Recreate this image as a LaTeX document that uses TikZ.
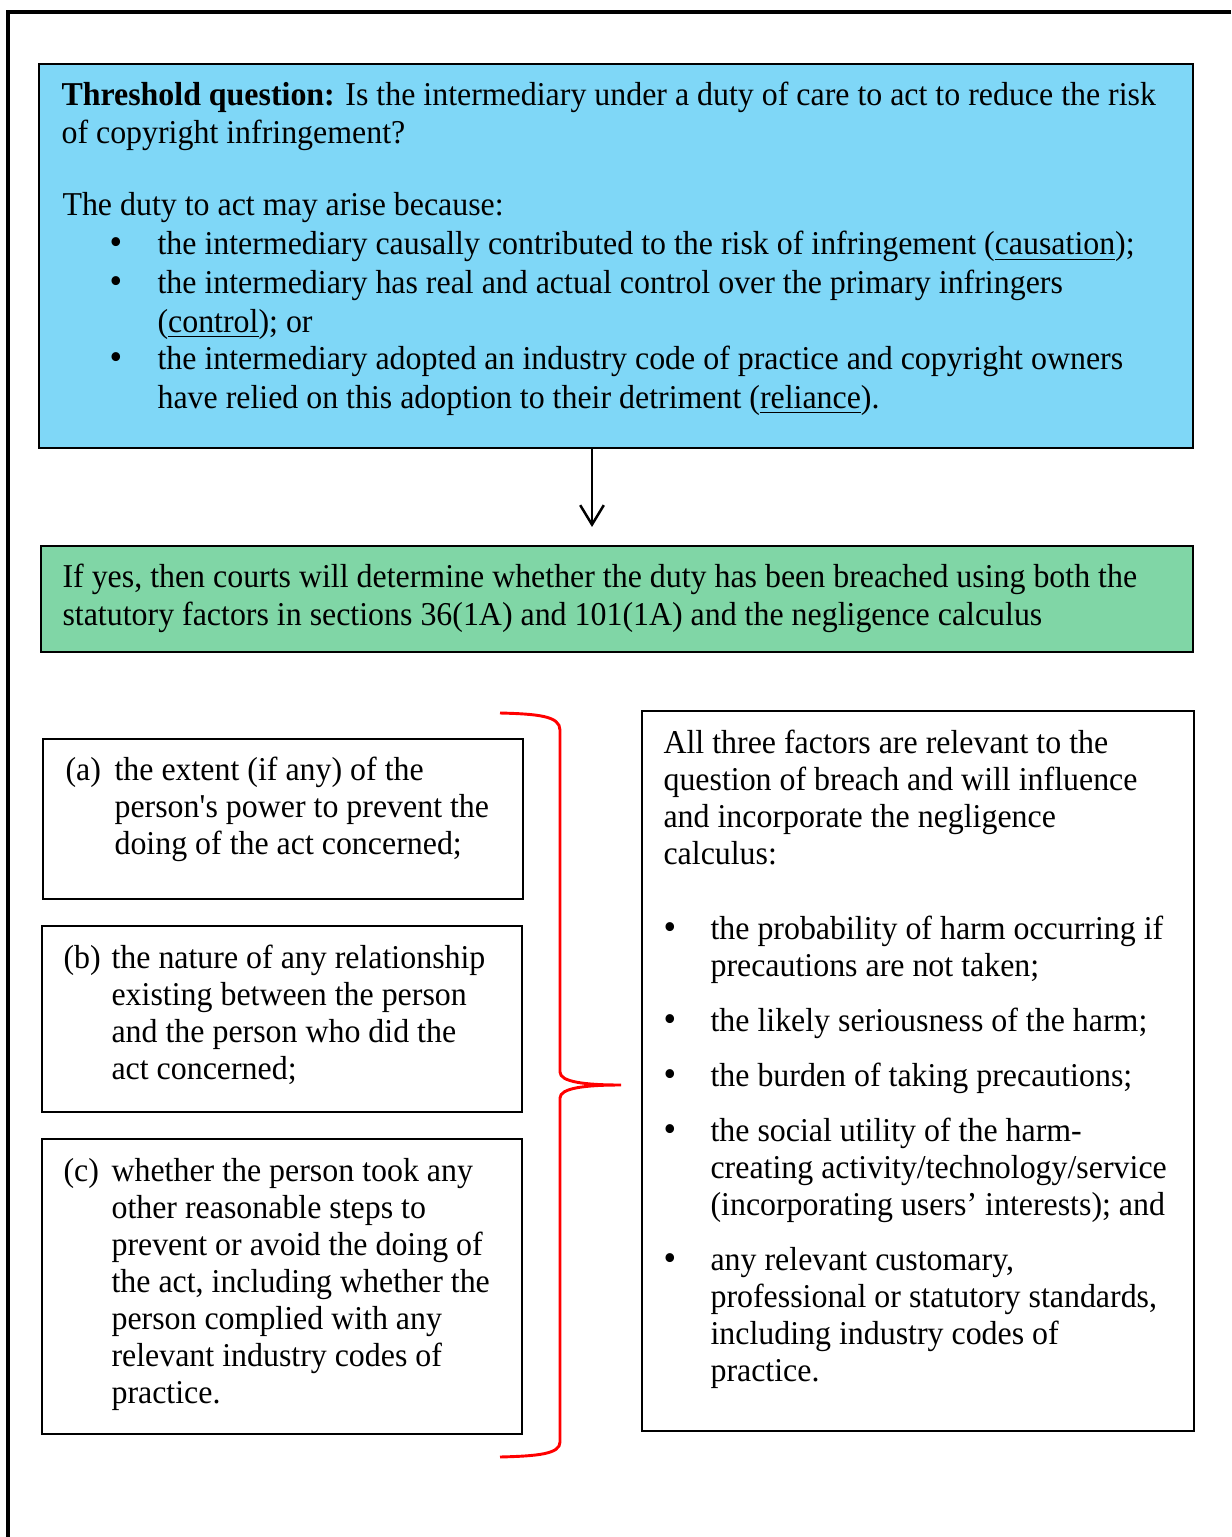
\documentclass[tikz,border=0pt]{standalone}
\usepackage{fontspec}
\setmainfont{Liberation Serif}[FakeStretch=0.957]
\usetikzlibrary{arrows.meta}
\definecolor{blueC}{RGB}{127,215,247}
\definecolor{greenC}{RGB}{128,214,166}
\definecolor{braceC}{RGB}{255,0,0}
\newcommand{\mlines}[1]{\begin{tabular}[t]{@{}l@{}}#1\end{tabular}}
\begin{document}
\begin{tikzpicture}[x=0.36pt,y=-0.36pt,
  box/.style={draw, line width=0.72pt, inner sep=0pt, outer sep=0pt, anchor=north west},
  txt/.style={anchor=base west, inner sep=0pt, font=\fontsize{12}{13.35}\selectfont},
  txtb/.style={txt, font=\fontsize{12}{13.7}\selectfont},
  bul/.style={anchor=base, inner sep=0pt, font=\fontsize{13.5}{14}\selectfont},
  frame/.style={line width=1.1pt},
  arr/.style={line width=0.9pt, -{Straight Barb[length=7pt,width=8.5pt,line width=0.9pt]}},
  brace/.style={draw=braceC, line width=1.05pt},
]
\useasboundingbox (0,0) rectangle (1231,1537);
% outer frame
\draw[frame] (1231,12) -- (8,12) -- (8,1537);
% boxes
\node[box, fill=blueC, minimum width=1154*0.36pt, minimum height=384*0.36pt] (thresh) at (39,64) {};
\node[box, fill=greenC, minimum width=1152*0.36pt, minimum height=106*0.36pt] (breach) at (41,546) {};
\node[box, minimum width=480*0.36pt, minimum height=160*0.36pt] (fa) at (43,739) {};
\node[box, minimum width=480*0.36pt, minimum height=186*0.36pt] (fb) at (42,926) {};
\node[box, minimum width=480*0.36pt, minimum height=295*0.36pt] (fc) at (42,1139) {};
\node[box, minimum width=552*0.36pt, minimum height=720*0.36pt] (factors) at (642,711) {};
% arrow
\coordinate (aend) at (592,527);
\draw[arr] (thresh.south -| aend) -- (aend);
% brace
\draw[brace] (500,713) .. controls (538,714) and (560,716) .. (560,730) -- (560,1072)
  .. controls (560,1082) and (585,1085) .. (621,1085)
  .. controls (585,1085) and (560,1088) .. (560,1098) -- (560,1442)
  .. controls (560,1454) and (538,1456) .. (500,1457);
% threshold text
\node[txt] (t1) at (61,106) {\mlines{\textbf{Threshold question:} Is the intermediary under a duty of care to act to reduce the risk\\of copyright infringement?}};
\node[txt] (t2) at (62,216) {The duty to act may arise because:};
\node[bul] (b1) at (116,255) {\textbullet};
\node[txt] (t3) at (157,255) {the intermediary causally contributed to the risk of infringement (\underline{causation});};
\node[bul] (b2) at (116,294) {\textbullet};
\node[txtb] (t4) at (157,294) {\mlines{the intermediary has real and actual control over the primary infringers\\(\underline{control}); or}};
\node[bul] (b3) at (116,370) {\textbullet};
\node[txtb] (t5) at (157,370) {\mlines{the intermediary adopted an industry code of practice and copyright owners\\have relied on this adoption to their detriment (\underline{reliance}).}};
% breach text
\node[txt] (g1) at (62,588) {\mlines{If yes, then courts will determine whether the duty has been breached using both the\\statutory factors in sections 36(1A) and 101(1A) and the negligence calculus}};
% left factors
\node[txt] (la) at (65,780) {(a)};
\node[txt] (lat) at (114,780) {\mlines{the extent (if any) of the\\person\textquotesingle s power to prevent the\\doing of the act concerned;}};
\node[txt] (lb) at (63,968) {(b)};
\node[txt] (lbt) at (111,968) {\mlines{the nature of any relationship\\existing between the person\\and the person who did the\\act concerned;}};
\node[txt] (lc) at (63,1181) {(c)};
\node[txt] (lct) at (111,1181) {\mlines{whether the person took any\\other reasonable steps to\\prevent or avoid the doing of\\the act, including whether the\\person complied with any\\relevant industry codes of\\practice.}};
% right text
\node[txt] (r0) at (663,753) {\mlines{All three factors are relevant to the\\question of breach and will influence\\and incorporate the negligence\\calculus:}};
\node[bul] (rb1) at (670,939) {\textbullet};
\node[txt] (r1) at (710,939) {\mlines{the probability of harm occurring if\\precautions are not taken;}};
\node[bul] (rb2) at (670,1031) {\textbullet};
\node[txt] (r2) at (710,1031) {the likely seriousness of the harm;};
\node[bul] (rb3) at (670,1086) {\textbullet};
\node[txt] (r3) at (710,1086) {the burden of taking precautions;};
\node[bul] (rb4) at (670,1141) {\textbullet};
\node[txt] (r4) at (710,1141) {\mlines{the social utility of the harm-\\creating activity/technology/service\\(incorporating users’ interests); and}};
\node[bul] (rb5) at (670,1270) {\textbullet};
\node[txt] (r5) at (710,1270) {\mlines{any relevant customary,\\professional or statutory standards,\\including industry codes of\\practice.}};
\end{tikzpicture}
\end{document}
